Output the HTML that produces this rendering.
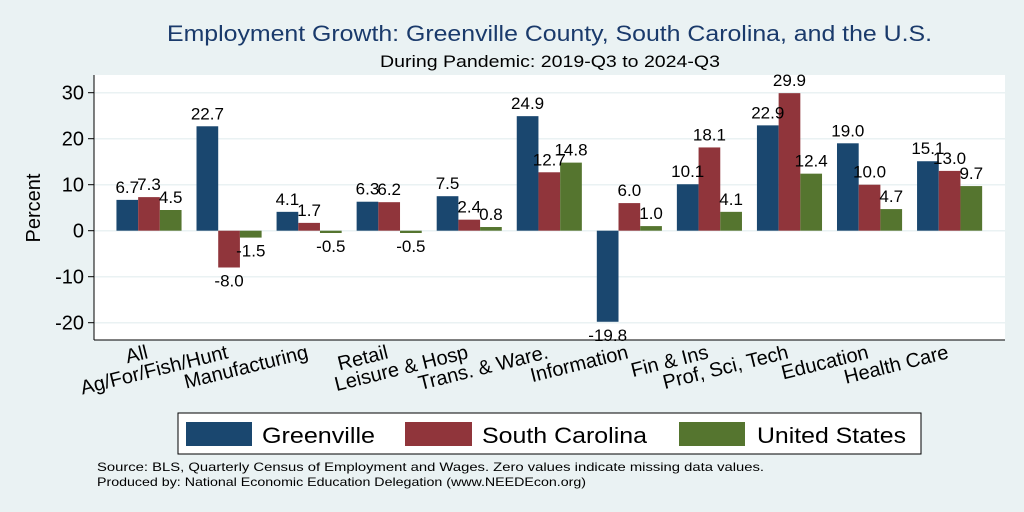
<!DOCTYPE html>
<html><head><meta charset="utf-8"><style>
body{margin:0;background:#eaf2f3;font-family:"Liberation Sans",Arial,sans-serif;}
svg{display:block}
</style></head><body>
<svg id="c" width="1024" height="512" xmlns="http://www.w3.org/2000/svg">
<rect x="0" y="0" width="1024" height="512" fill="#eaf2f3"/>
<rect x="94" y="75" width="911" height="265" fill="#ffffff"/>
<text x="167" y="41" textLength="765" lengthAdjust="spacingAndGlyphs" font-size="22" fill="#1a3a6b">Employment Growth: Greenville County, South Carolina, and the U.S.</text>
<text x="380" y="67" textLength="340" lengthAdjust="spacingAndGlyphs" font-size="16.5" fill="#000">During Pandemic: 2019-Q3 to 2024-Q3</text>
<g id="grid"></g><g id="bars"></g><g id="vals"></g><g id="axis"></g>
<line x1="94" y1="75" x2="94" y2="340" stroke="#000" stroke-width="1"/>
<line x1="94" y1="340" x2="1005" y2="340" stroke="#000" stroke-width="1"/>
<text transform="translate(40,208) rotate(-90)" text-anchor="middle" font-size="20">Percent</text>
<g>
<rect x="178" y="413" width="743" height="41" fill="#fff" stroke="#000" stroke-width="1"/>
<rect x="186" y="422" width="66" height="24" fill="#1a476f"/>
<text x="262" y="443" font-size="22" textLength="113" lengthAdjust="spacingAndGlyphs">Greenville</text>
<rect x="405" y="422" width="67" height="24" fill="#90353b"/>
<text x="482" y="443" font-size="22" textLength="165" lengthAdjust="spacingAndGlyphs">South Carolina</text>
<rect x="679" y="422" width="66" height="24" fill="#55752f"/>
<text x="757" y="443" font-size="22" textLength="149" lengthAdjust="spacingAndGlyphs">United States</text>
</g>
<text x="97" y="471" font-size="12" textLength="667" lengthAdjust="spacingAndGlyphs">Source: BLS, Quarterly Census of Employment and Wages. Zero values indicate missing data values.</text>
<text x="97" y="486" font-size="12" textLength="489" lengthAdjust="spacingAndGlyphs">Produced by: National Economic Education Delegation (www.NEEDEcon.org)</text>
</svg>
<script>
const categories=["All","Ag/For/Fish/Hunt","Manufacturing","Retail","Leisure & Hosp","Trans. & Ware.","Information","Fin & Ins","Prof, Sci, Tech","Education","Health Care"];
const greenville=[6.7,22.7,4.1,6.3,7.5,24.9,-19.8,10.1,22.9,19.0,15.1];
const southCarolina=[7.3,-8.0,1.7,6.2,2.4,12.7,6.0,18.1,29.9,10.0,13.0];
const unitedStates=[4.5,-1.5,-0.5,-0.5,0.8,14.8,1.0,4.1,12.4,4.7,9.7];
const yTicks=[-20,-10,0,10,20,30];
const seriesNames=["greenville","south-carolina","united-states"];
const colors=["#1a476f","#90353b","#55752f"];
const NS="http://www.w3.org/2000/svg";
const y=v=>230.7-v*4.6;
const gx=i=>149+i*80.06;
const bw=21.7;
function mk(t,a,p){const e=document.createElementNS(NS,t);for(const k in a)e.setAttribute(k,a[k]);document.getElementById(p).appendChild(e);return e;}
yTicks.forEach(t=>{
 const g=mk("line",{x1:94,x2:1005,y1:y(t),y2:y(t),stroke:"#eaf2f3","stroke-width":1.5},"grid");
 
 
 const tk=mk("line",{x1:88,x2:94,y1:y(t),y2:y(t),stroke:"#000"},"axis");
 
 
 const tx=mk("text",{x:84,y:y(t)+7,"text-anchor":"end","font-size":20},"axis");
 tx.textContent=t;
 
 
});
const series=[greenville,southCarolina,unitedStates];
categories.forEach((c,i)=>{
 series.forEach((s,j)=>{
  const v=s[i];const x0=gx(i)-1.5*bw+j*bw;
  const r=mk("rect",{x:x0,y:Math.min(y(v),y(0)),width:bw,height:Math.abs(y(v)-y(0)),fill:colors[j]},"bars");
  
  
  const t=mk("text",{x:x0+bw/2,y:v>=0?y(v)-7:y(v)+19,"text-anchor":"middle","font-size":17},"vals");
  t.textContent=v.toFixed(1);
  
  
 });
 const l=mk("text",{transform:`translate(${gx(i)},${358}) rotate(-14)`,"text-anchor":"end","font-size":20},"axis");
 l.textContent=c;
 
 
});
</script>
</body></html>
